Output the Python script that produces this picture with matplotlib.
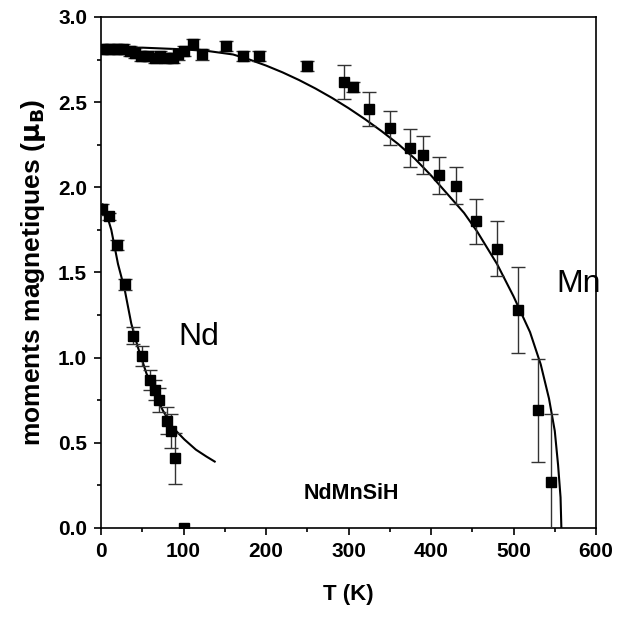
import matplotlib
matplotlib.use("Agg")
import matplotlib.pyplot as plt
from matplotlib.ticker import MultipleLocator

plt.rcParams['font.family'] = ['Liberation Sans', 'DejaVu Sans']

# Mn sublattice moment vs temperature
mn_T = [3, 11, 19, 27, 35, 41, 49, 57, 65, 71, 79, 87, 93, 100, 112, 122,
        152, 172, 192, 250, 295, 305, 325, 350, 375, 390, 410, 430, 455,
        480, 505, 530, 545]
mn_M = [2.81, 2.81, 2.81, 2.81, 2.80, 2.79, 2.77, 2.77, 2.76, 2.77, 2.76,
        2.76, 2.78, 2.80, 2.84, 2.78, 2.83, 2.77, 2.77, 2.71, 2.62, 2.59,
        2.46, 2.35, 2.23, 2.19, 2.07, 2.01, 1.80, 1.64, 1.28, 0.69, 0.27]
mn_err = [0.03] * 20 + [0.10, 0.03, 0.10, 0.10, 0.11, 0.11, 0.11, 0.11,
                        0.13, 0.16, 0.25, 0.30, 0.40]

# Nd sublattice moment vs temperature
nd_T = [1.5, 10, 19, 29, 39, 50, 60, 65, 70, 80, 85, 90, 100]
nd_M = [1.87, 1.83, 1.66, 1.43, 1.13, 1.01, 0.87, 0.81, 0.75, 0.63, 0.57,
        0.41, 0.0]
nd_err = [0.03, 0.02, 0.03, 0.03, 0.05, 0.06, 0.06, 0.06, 0.07, 0.08, 0.10,
          0.15, 0.0]

# fitted curves
mn_fit_T = [0, 50, 100, 130, 160, 180, 200, 220, 240, 260, 280, 300, 320,
            340, 360, 380, 400, 420, 440, 456, 480, 500, 520, 533, 543, 550,
            554, 557, 558]
mn_fit_M = [2.82, 2.82, 2.81, 2.80, 2.78, 2.75, 2.715, 2.675, 2.63, 2.58,
            2.525, 2.465, 2.40, 2.33, 2.255, 2.17, 2.07, 1.96, 1.85, 1.74,
            1.55, 1.36, 1.15, 0.96, 0.76, 0.57, 0.37, 0.18, 0.0]
nd_fit_T = [2, 4.5, 12.5, 20.6, 28.7, 36.7, 44.8, 54.9, 65, 75, 87, 101, 115,
            127.6, 137.8]
nd_fit_M = [1.90, 1.88, 1.75, 1.55, 1.40, 1.20, 1.06, 0.91, 0.79, 0.69, 0.59,
            0.52, 0.46, 0.42, 0.39]

fig = plt.figure(figsize=(6.34, 6.27), dpi=100)
ax = fig.add_axes([0.1593, 0.1579, 0.7808, 0.8150])

ax.plot(mn_fit_T, mn_fit_M, color='black', lw=1.5, zorder=2)
ax.plot(nd_fit_T, nd_fit_M, color='black', lw=1.5, zorder=2)

for T, M, E in ((mn_T, mn_M, mn_err), (nd_T, nd_M, nd_err)):
    ax.errorbar(T, M, yerr=E, fmt='s', color='black', ms=7.5,
                ecolor='#333333', elinewidth=1.0, capsize=5, capthick=1.0,
                zorder=3, clip_on=True)

ax.set_xlim(0, 600)
ax.set_ylim(0, 3.0)
ax.xaxis.set_major_locator(MultipleLocator(100))
ax.xaxis.set_minor_locator(MultipleLocator(50))
ax.yaxis.set_major_locator(MultipleLocator(0.5))
ax.yaxis.set_minor_locator(MultipleLocator(0.25))
ax.tick_params(which='both', direction='out', width=1.2, top=False, right=False)
ax.tick_params(which='major', length=5, labelsize=15, pad=5)
ax.tick_params(which='minor', length=3)
for lab in ax.get_xticklabels() + ax.get_yticklabels():
    lab.set_fontweight('bold')
for s in ax.spines.values():
    s.set_linewidth(1.2)

ax.set_xlabel('T (K)', fontsize=16, fontweight='bold', labelpad=17)
ax.set_ylabel(r'moments magnetiques ($\mathbf{\mu_B}$)', fontsize=19,
              fontweight='bold', labelpad=7)

ax.text(119, 1.12, 'Nd', fontsize=23, ha='center', va='center')
ax.text(579, 1.43, 'Mn', fontsize=23, ha='center', va='center')
ax.text(304, 0.205, 'NdMnSiH', fontsize=15.5, fontweight='bold',
        ha='center', va='center')

fig.savefig('out.png', dpi=100)
